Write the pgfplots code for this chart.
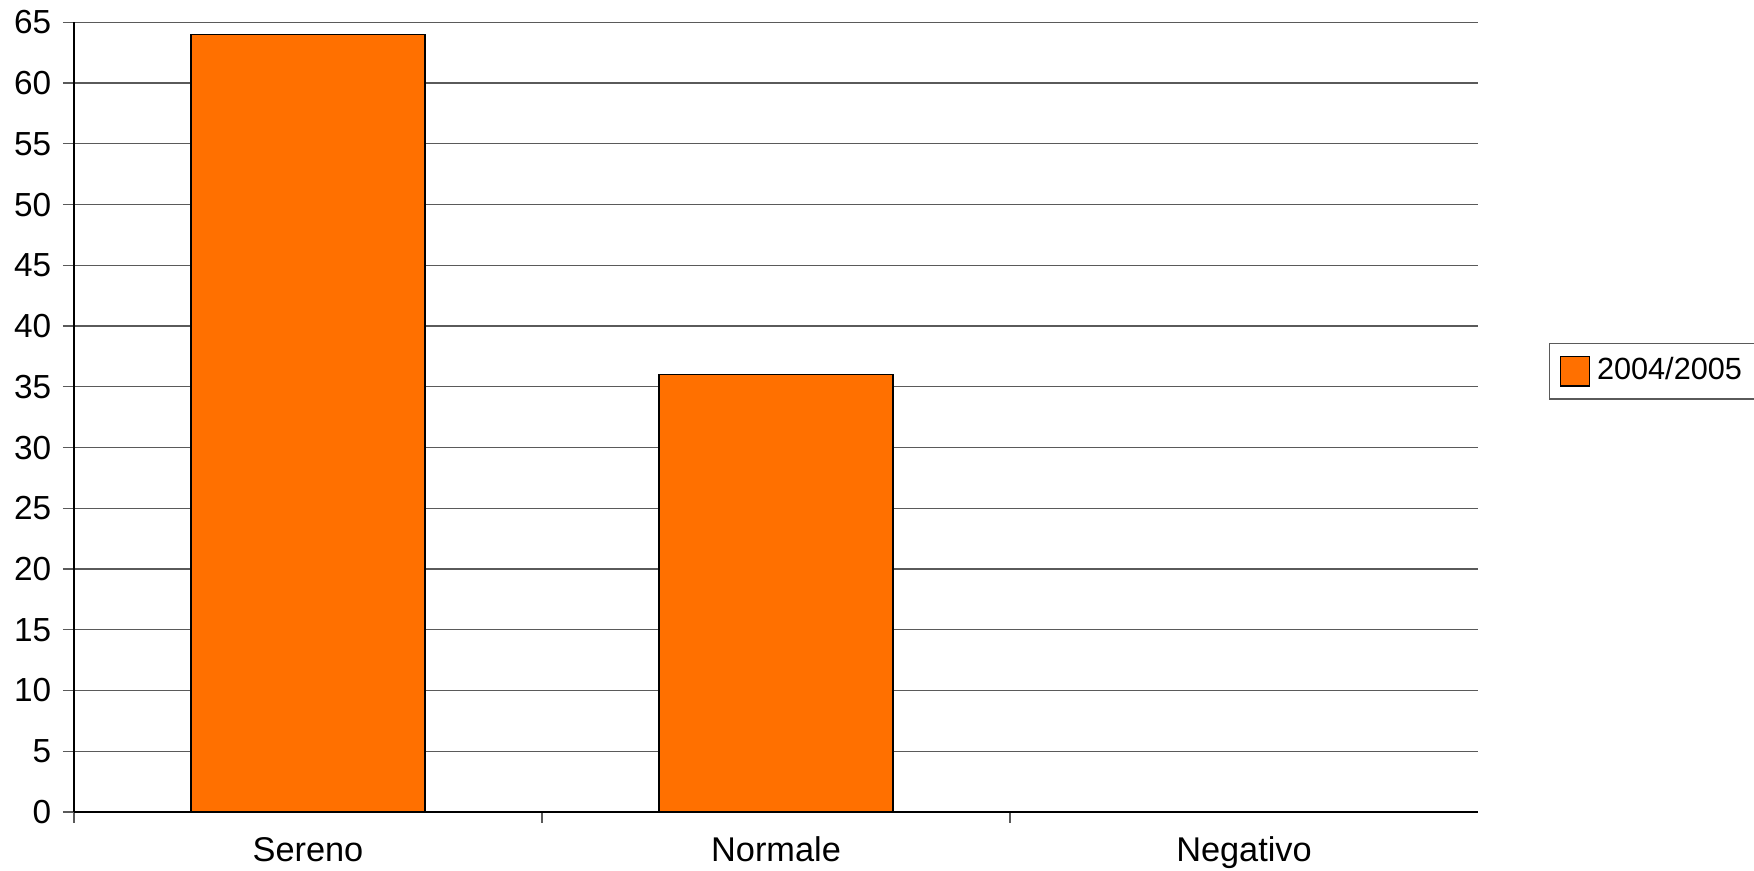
\documentclass[border=0pt]{standalone}
\usepackage{fontspec}
\setmainfont{Liberation Sans}
\usepackage{pgfplots}
\pgfplotsset{compat=1.18}
\definecolor{barorange}{HTML}{FF7000}
\definecolor{gridgray}{HTML}{5A5A5A}
\begin{document}
\begin{tikzpicture}
\begin{axis}[
  scale only axis, width=421.2pt, height=236.9pt,
  xmin=-0.5, xmax=2.5, ymin=0, ymax=65,
  axis x line*=bottom, axis y line*=left,
  x axis line style={line width=0.6pt, black},
  y axis line style={line width=0.4pt, black},
  ytick={0,5,...,65},
  ymajorgrids, grid style={gridgray, line width=0.4pt},
  tick align=outside, major tick length=3.3pt,
  tick style={gridgray, line width=0.4pt},
  xtick={-0.5,0.5,1.5}, xticklabels={},
  extra x ticks={0,1,2}, extra x tick labels={Sereno,Normale,Negativo},
  extra x tick style={major tick length=0pt, grid=none,
    xticklabel style={yshift=-3.6pt, font=\fontsize{10.3}{12}\selectfont, text height=7.6pt, text depth=2.2pt}},
  ticklabel style={font=\fontsize{10}{12}\selectfont},
  /pgf/number format/assume math mode=true,
  legend style={at={(1,0.558)}, anchor=west, xshift=21.3pt, draw=gridgray,
    font=\fontsize{9.2}{11}\selectfont, inner xsep=3pt, inner ysep=2.2pt},
  legend image code/.code={\draw[fill=barorange,draw=black,line width=0.4pt] (0pt,-4.4pt) rectangle (8.8pt,4.4pt);},
]
\addplot[ybar, bar width=0.5, fill=barorange, draw=black, line width=0.4pt]
  coordinates {(0,64) (1,36) (2,0)};
\addlegendentry{2004/2005}
\end{axis}
\pgfresetboundingbox
\path (current axis.south west) ++(-22.2pt,-17.7pt) rectangle ++(526.2pt,261.3pt);
\end{tikzpicture}
\end{document}
